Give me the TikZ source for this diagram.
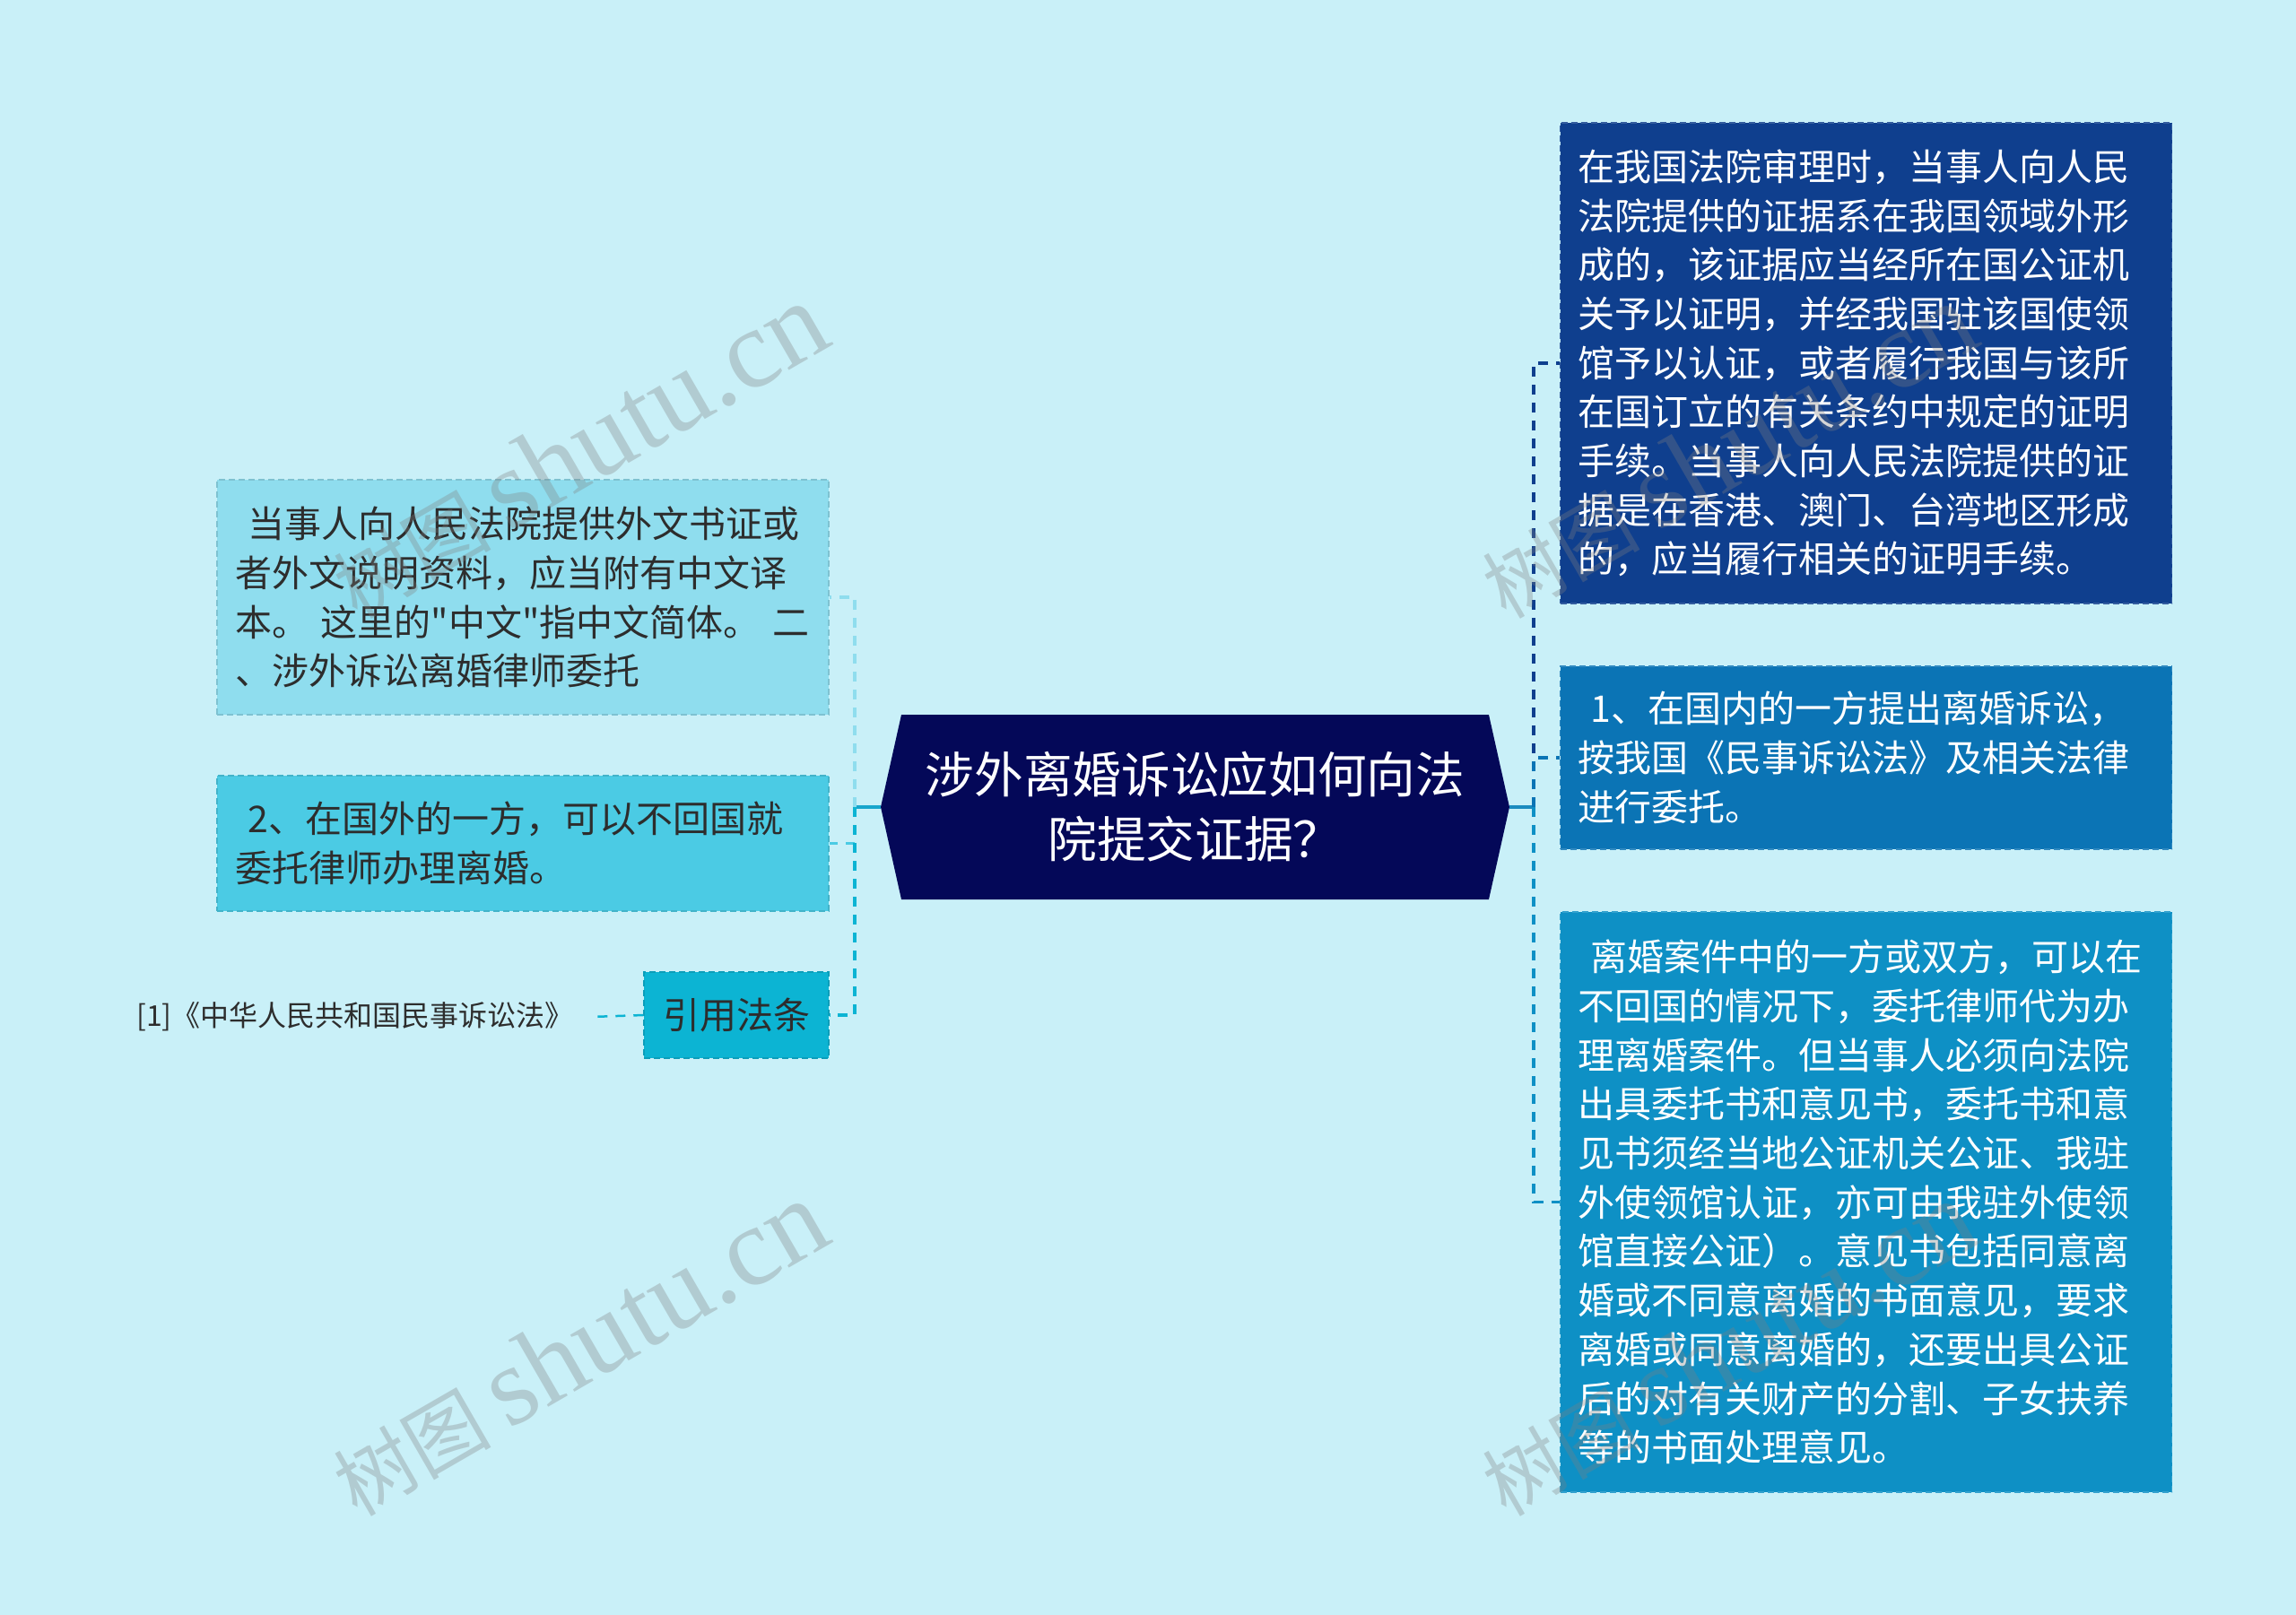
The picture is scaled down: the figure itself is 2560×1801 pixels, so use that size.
\documentclass[tikz,border=0pt]{standalone}
\usepackage{fontspec}
\newfontfamily\cjkfont{Noto Sans CJK SC}
\newfontfamily\wmlatin{Liberation Serif}

\definecolor{bgcol}{RGB}{201,240,248}
\definecolor{ctrfill}{RGB}{4,8,88}
\definecolor{lfillA}{RGB}{143,221,238}
\definecolor{lfillB}{RGB}{75,203,228}
\definecolor{lfillC}{RGB}{12,180,211}
\definecolor{rfillA}{RGB}{15,63,142}
\definecolor{rfillB}{RGB}{11,116,181}
\definecolor{rfillC}{RGB}{14,144,197}
\definecolor{stubL}{RGB}{23,165,204}
\definecolor{stubR}{RGB}{27,139,191}
\definecolor{darktext}{RGB}{45,45,45}

\begin{document}
\cjkfont
\begin{tikzpicture}[x=1pt,y=-1pt,
  box/.style={rectangle, inner xsep=20pt, inner ysep=0pt, text width=642pt,
    align=left, font=\fontsize{41}{54.7}\selectfont,
    dash pattern=on 7pt off 4pt, line width=1.5pt},
  lbox/.style={box, text=darktext, fill=#1, draw=#1!88!black},
  rbox/.style={box, text=white, fill=#1, draw=#1!85!white},
  edge/.style={line width=3.5pt, dash pattern=on 11pt off 9pt},
  stub/.style={line width=3.5pt},
  wm/.style={rotate=30, text=gray, opacity=0.32, inner sep=0pt,
    font=\fontsize{88}{88}\selectfont}]

\useasboundingbox (0,0) rectangle (2560,1801);
\fill[bgcol] (0,0) rectangle (2560,1801);

\fill[ctrfill] (982,900) -- (1005,797) -- (1660,797) -- (1683,900)
  -- (1660,1003) -- (1005,1003) -- cycle;
\node[text=white, align=center, font=\fontsize{54.7}{72}\selectfont,
  minimum width=655pt, minimum height=206pt] (ctr) at (1332.5,900)
  {涉外离婚诉讼应如何向法\\院提交证据？};
\coordinate (ctrL) at (982,900);
\coordinate (ctrR) at (1683,900);
\coordinate (ltr) at (953,900);
\coordinate (rtr) at (1710,900);

\node[lbox=lfillA, minimum height=262pt] (lb1) at (583,666)
  {\hspace*{0.35em}当事人向人民法院提供外文书证或\\
   者外文说明资料，应当附有中文译\\
   本。 这里的"中文"指中文简体。 二\\
   、涉外诉讼离婚律师委托};
\node[lbox=lfillB, minimum height=151pt] (lb2) at (583,940.5)
  {\hspace*{0.35em}2、在国外的一方，可以不回国就\\
   委托律师办理离婚。};
\node[lbox=lfillC, text width=166pt, align=center, minimum height=96pt] (law) at (821,1132)
  {引用法条};
\node[text=darktext, inner xsep=19pt, font=\fontsize{32}{32}\selectfont] (cite) at (396,1134)
  {[1]《中华人民共和国民事诉讼法》};

\node[rbox=rfillA, minimum height=536pt] (rb1) at (2080.5,405)
  {在我国法院审理时，当事人向人民\\
   法院提供的证据系在我国领域外形\\
   成的，该证据应当经所在国公证机\\
   关予以证明，并经我国驻该国使领\\
   馆予以认证，或者履行我国与该所\\
   在国订立的有关条约中规定的证明\\
   手续。当事人向人民法院提供的证\\
   据是在香港、澳门、台湾地区形成\\
   的，应当履行相关的证明手续。};
\node[rbox=rfillB, minimum height=204pt] (rb2) at (2080.5,845)
  {\hspace*{0.35em}1、在国内的一方提出离婚诉讼，\\
   按我国《民事诉讼法》及相关法律\\
   进行委托。};
\node[rbox=rfillC, minimum height=647pt] (rb3) at (2080.5,1340.5)
  {\hspace*{0.35em}离婚案件中的一方或双方，可以在\\
   不回国的情况下，委托律师代为办\\
   理离婚案件。但当事人必须向法院\\
   出具委托书和意见书，委托书和意\\
   见书须经当地公证机关公证、我驻\\
   外使领馆认证，亦可由我驻外使领\\
   馆直接公证）。意见书包括同意离\\
   婚或不同意离婚的书面意见，要求\\
   离婚或同意离婚的，还要出具公证\\
   后的对有关财产的分割、子女扶养\\
   等的书面处理意见。};

\draw[stub, stubL] (ctrL) -- (ltr);
\draw[stub, stubR] (ctrR) -- (rtr);

\draw[edge, lfillA] (ltr) |- (lb1.east);
\draw[edge, lfillB] (ltr) |- (lb2.east);
\draw[edge, lfillC] (ltr) |- (law.east);
\draw[edge, lfillC, line width=2.5pt] (law.west) -- (cite.east);

\draw[edge, rfillA] (rtr) |- (rb1.west);
\draw[edge, rfillB] (rtr) |- (rb2.west);
\draw[edge, rfillC] (rtr) |- (rb3.west);

\foreach \wx in {645,1926}{
\foreach \wy in {503,1504}{
\node[wm] at (\wx,\wy) {树图 {\wmlatin\fontsize{125}{125}\selectfont shutu.cn}};
}}
\end{tikzpicture}
\end{document}
